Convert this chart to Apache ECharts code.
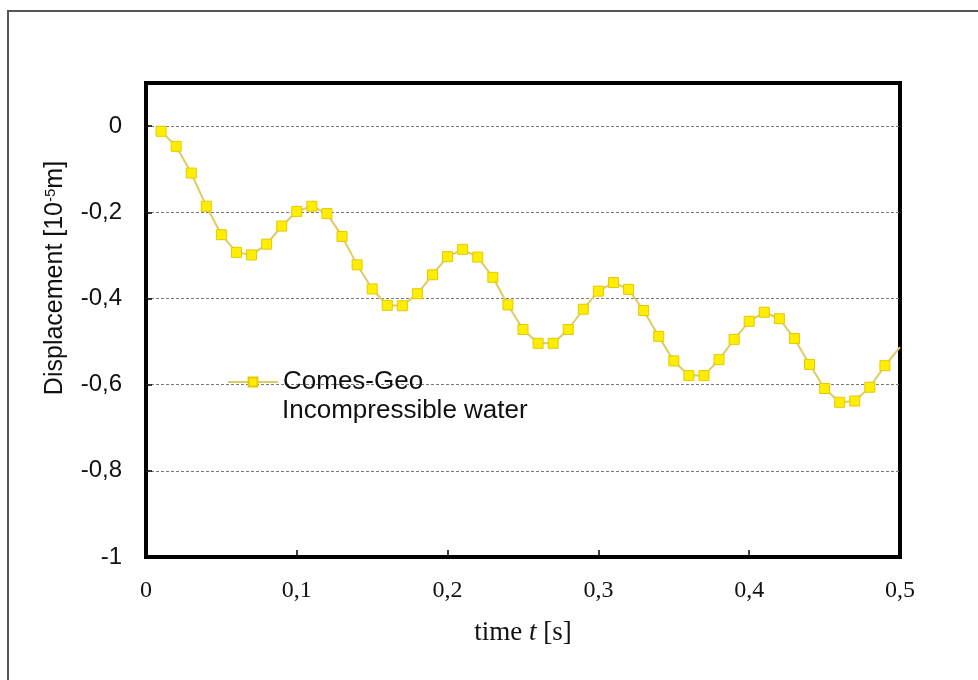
<!DOCTYPE html>
<html>
<head>
<meta charset="utf-8">
<script src="https://cdn.jsdelivr.net/npm/echarts@6/dist/echarts.min.js"></script>
<style>
  html, body { margin: 0; padding: 0; background: #ffffff; }
  #chart { width: 978px; height: 680px; }
</style>
</head>
<body>
<div id="chart"></div>
<script>
// Time samples [s]
const timeS = [
  0.01, 0.02, 0.03, 0.04, 0.05, 0.06, 0.07, 0.08, 0.09, 0.10,
  0.11, 0.12, 0.13, 0.14, 0.15, 0.16, 0.17, 0.18, 0.19, 0.20,
  0.21, 0.22, 0.23, 0.24, 0.25, 0.26, 0.27, 0.28, 0.29, 0.30,
  0.31, 0.32, 0.33, 0.34, 0.35, 0.36, 0.37, 0.38, 0.39, 0.40,
  0.41, 0.42, 0.43, 0.44, 0.45, 0.46, 0.47, 0.48, 0.49, 0.50
];

// Displacement [10^-5 m], Comes-Geo, incompressible water
const displacement = [
  -0.012, -0.047, -0.109, -0.186, -0.252, -0.293, -0.299, -0.274, -0.232, -0.198,
  -0.186, -0.203, -0.256, -0.322, -0.378, -0.416, -0.417, -0.389, -0.345, -0.303,
  -0.286, -0.304, -0.351, -0.415, -0.472, -0.504, -0.504, -0.472, -0.425, -0.383,
  -0.363, -0.379, -0.428, -0.488, -0.545, -0.579, -0.579, -0.542, -0.495, -0.453,
  -0.432, -0.447, -0.493, -0.553, -0.609, -0.641, -0.638, -0.606, -0.556, -0.513
];

// Axis tick values
const xTicks = [0, 0.1, 0.2, 0.3, 0.4, 0.5];
const yTicks = [-1, -0.8, -0.6, -0.4, -0.2, 0];

const seriesName = 'Comes-Geo';
const seriesNote = 'Incompressible water';

// Decimal comma labels
const commaFmt = v => String(+(+v).toFixed(2)).replace('.', ',');

// The final sample sits on the frame and carries no marker
const seriesData = timeS.map((t, i) => {
  const item = { value: [t, displacement[i]] };
  if (i === timeS.length - 1) item.symbol = 'none';
  return item;
});

const chart = echarts.init(document.getElementById('chart'), null, { renderer: 'canvas' });

chart.setOption({
  backgroundColor: '#ffffff',
  animation: false,
  grid: {
    left: 146, top: 83, right: 78, bottom: 123,
    show: true,
    borderColor: '#000000',
    borderWidth: 4,
    backgroundColor: '#ffffff'
  },
  legend: {
    data: [seriesName],
    left: 227,
    top: 369,
    padding: 0,
    itemWidth: 50,
    itemHeight: 11,
    itemGap: 0,
    textStyle: {
      fontFamily: 'Liberation Sans',
      fontSize: 26,
      color: '#111111'
    }
  },
  xAxis: {
    type: 'value',
    min: xTicks[0],
    max: xTicks[xTicks.length - 1],
    interval: 0.1,
    name: '{a|time }{i|t}{a| [s]}',
    nameLocation: 'middle',
    nameGap: 62,
    nameTextStyle: {
      rich: {
        a: { fontFamily: 'Liberation Serif', fontSize: 27, color: '#111111' },
        i: { fontFamily: 'Liberation Serif', fontSize: 27, fontStyle: 'italic', color: '#111111' }
      }
    },
    axisLine: { show: false, onZero: false },
    axisTick: { show: true, inside: true, length: 7, lineStyle: { color: '#000000', width: 1.5 } },
    splitLine: { show: false },
    axisLabel: {
      margin: 22,
      fontFamily: 'Liberation Serif',
      fontSize: 24,
      color: '#111111',
      formatter: commaFmt
    }
  },
  yAxis: {
    type: 'value',
    min: yTicks[0],
    max: 0.1,
    interval: 0.2,
    name: '{a|Displacement [10}{s|-5}{a|m]}',
    nameLocation: 'middle',
    nameGap: 78,
    nameRotate: 90,
    nameTextStyle: {
      padding: [0, 0, 0, 84],
      rich: {
        a: { fontFamily: 'Liberation Sans', fontSize: 25, color: '#111111' },
        s: { fontFamily: 'Liberation Sans', fontSize: 15, color: '#111111', verticalAlign: 'top', padding: [0, 0, 10, 0] }
      }
    },
    axisLine: { show: false, onZero: false },
    axisTick: { show: true, inside: true, length: 6, lineStyle: { color: '#000000', width: 1.5 } },
    splitLine: {
      show: true,
      showMinLine: false,
      showMaxLine: false,
      lineStyle: { color: '#7a7a7a', width: 1, type: [3, 2] }
    },
    axisLabel: {
      margin: 24,
      fontFamily: 'Liberation Sans',
      fontSize: 24,
      color: '#111111',
      formatter: v => (v > 0.05 ? '' : commaFmt(v))
    }
  },
  graphic: [
    {
      type: 'rect',
      silent: true,
      z: 100,
      shape: { x: 8, y: 11, width: 1000, height: 700 },
      style: { fill: 'none', stroke: '#555555', lineWidth: 2 }
    },
    {
      type: 'text',
      silent: true,
      left: 282,
      top: 398,
      style: {
        text: seriesNote,
        font: '26px "Liberation Sans"',
        fill: '#111111'
      }
    }
  ],
  series: [
    {
      name: seriesName,
      type: 'line',
      data: seriesData,
      symbol: 'rect',
      symbolSize: 10,
      showAllSymbol: true,
      lineStyle: { color: '#dccd62', width: 2 },
      itemStyle: { color: '#ffee00', borderColor: '#e6c800', borderWidth: 1 },
      z: 3
    }
  ]
});
</script>
</body>
</html>
